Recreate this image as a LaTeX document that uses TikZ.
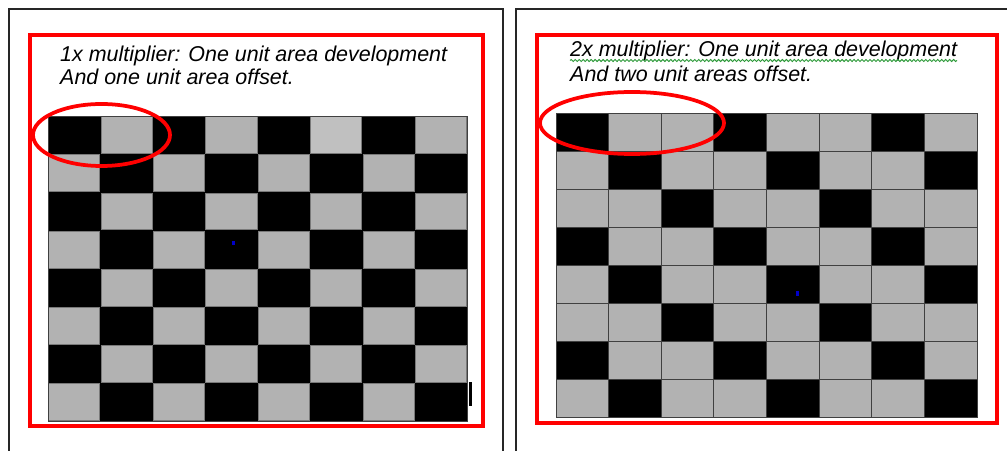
\documentclass[tikz,border=0pt]{standalone}
\usepackage{fontspec}
\setmainfont{Liberation Sans}
\usetikzlibrary{decorations.pathmorphing}
\definecolor{markred}{HTML}{FF0000}
\definecolor{cellgray}{HTML}{B2B2B2}
\definecolor{cellpale}{HTML}{C0C0C0}
\definecolor{gridline}{HTML}{404040}
\definecolor{spell}{HTML}{2E9A3A}
\definecolor{caret}{HTML}{0000C8}

\begin{document}
\begin{tikzpicture}[
    x=0.3mm, y=-0.3mm,
    frame/.style={draw=black!85, line width=1.3pt},
    outline/.style={draw=markred, line width=2.6pt},
    ring/.style={draw=markred, line width=3.2pt},
    caption/.style={font=\fontsize{18.3}{20}\selectfont\itshape, anchor=base west, inner sep=0pt},
    graycell/.style={fill=#1, draw=gridline!70, line width=0.5pt},
    graycell/.default=cellgray,
    gridcell/.style={fill=#1, draw=gridline, line width=0.8pt},
]
\useasboundingbox (0,0) rectangle (1007,451);

% --- Left panel: 1x multiplier ---
\draw[frame] (9,451) -- (9,9) -- (503,9) -- (503,451);
\draw[outline] (30,35) rectangle (483,426);
\node[caption] (txt1a) at (60,62) {1x multiplier: One unit area development};
\node[caption] (txt1b) at (60,85) {And one unit area offset.};

\fill[black] (48,116) rectangle (467,421);
\foreach \r in {0,...,7} {
  \foreach \c in {0,...,7} {
    \pgfmathtruncatemacro{\isgray}{mod(\r+\c,2)}
    \ifnum\isgray=1
      \draw[graycell] ({48+52.375*\c+0.6},{116+38.125*\r+0.6})
        rectangle ({48+52.375*(\c+1)-0.6},{116+38.125*(\r+1)-0.6});
    \fi
  }
}
\draw[graycell=cellpale] ({48+52.375*5+0.6},116.6) rectangle ({48+52.375*6-0.6},{116+38.125-0.6});
\draw[gridline, line width=0.8pt] (48,116) rectangle (467,421);
\fill[caret] (232,241) rectangle (234.5,245.5);
\fill[black] (469,382) rectangle (472,406);
\draw[ring] (101.5,135) ellipse [x radius=68.5, y radius=31];

% --- Right panel: 2x multiplier ---
\draw[frame] (516,451) -- (516,9) -- (1007,9);
\draw[outline] (537,35) rectangle (997,423);
\node[caption] (txt2a) at (570,57) {2x multiplier: One unit area development};
\node[caption] (txt2b) at (570,82) {And two unit areas offset.};
\draw[spell, line width=0.8pt, decorate, decoration={snake, amplitude=0.9pt, segment length=3.4pt}]
  (txt2a.base west) ++(0,3.5) -- ++(387,0);

\foreach \r in {0,...,7} {
  \foreach \c in {0,...,7} {
    \pgfmathtruncatemacro{\k}{mod(\c-\r+9,3)}
    \ifnum\k=0 \def\cellcol{black}\else\def\cellcol{cellgray}\fi
    \draw[gridcell=\cellcol] ({556+52.625*\c},{113+38*\r})
      rectangle ({556+52.625*(\c+1)},{113+38*(\r+1)});
  }
}
\fill[caret] (796,291) rectangle (798.5,296);
\draw[ring] (632,123) ellipse [x radius=92, y radius=31];

\end{tikzpicture}
\end{document}
